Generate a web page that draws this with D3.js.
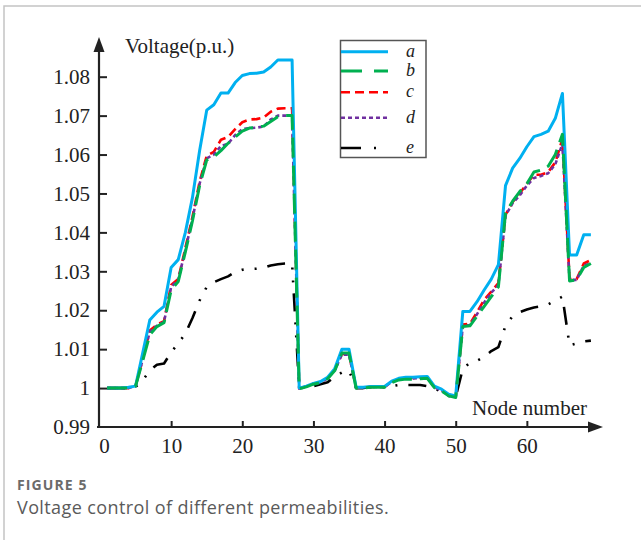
<!DOCTYPE html>
<html>
<head>
<meta charset="utf-8">
<script src="https://cdn.jsdelivr.net/npm/d3@7"></script>
<style>
  body { margin: 0; background: #fff; }
  .tick text { font-family: 'Liberation Serif', 'Times New Roman', serif; font-size: 21px; fill: #222; }
</style>
</head>
<body>
<div id="chart"></div>
<script>
// node numbers along the feeder
const nodes = d3.range(1, 70);

const seriesA = [1.000, 1.000, 1.000, 1.0002, 1.0005, 1.009, 1.0175, 1.0195, 1.021, 1.031,
  1.033, 1.040, 1.049, 1.061, 1.0714, 1.0728, 1.0758, 1.0758, 1.0785, 1.0803,
  1.0808, 1.0809, 1.0812, 1.0825, 1.0843, 1.0843, 1.0843, 1.000, 1.0005, 1.0012,
  1.0017, 1.0028, 1.005, 1.0100, 1.0100, 1.0002, 1.0002, 1.0004, 1.0004, 1.0004,
  1.0018, 1.0025, 1.0028, 1.0028, 1.0029, 1.003, 1.0005, 0.9997, 0.9984, 0.998,
  1.0197, 1.0197, 1.0222, 1.0252, 1.028, 1.0317, 1.052, 1.0565, 1.059, 1.062,
  1.0646, 1.0652, 1.066, 1.0693, 1.0757, 1.0342, 1.0342, 1.0394, 1.0394];

const seriesB = [1.000, 1.000, 1.000, 1.000, 1.0005, 1.007, 1.0137, 1.0158, 1.0168, 1.0252,
  1.0274, 1.035, 1.043, 1.052, 1.0586, 1.0594, 1.061, 1.0629, 1.0645, 1.066,
  1.0668, 1.067, 1.0673, 1.0685, 1.0697, 1.070, 1.070, 0.9998, 1.0003, 1.001,
  1.0014, 1.0024, 1.0045, 1.009, 1.009, 1.000, 1.000, 1.0002, 1.0002, 1.0002,
  1.0014, 1.0021, 1.0023, 1.0023, 1.0024, 1.0025, 1.0001, 0.9993, 0.998, 0.9976,
  1.0158, 1.016, 1.0185, 1.021, 1.0235, 1.026, 1.045, 1.048, 1.0505, 1.0525,
  1.0555, 1.056, 1.057, 1.060, 1.0652, 1.0275, 1.0278, 1.031, 1.032];

const seriesC = [1.000, 1.000, 1.000, 1.000, 1.0005, 1.0075, 1.0148, 1.0163, 1.0172, 1.0265,
  1.028, 1.036, 1.044, 1.053, 1.0597, 1.0607, 1.0638, 1.0645, 1.0665, 1.0683,
  1.069, 1.0691, 1.0695, 1.071, 1.0718, 1.0719, 1.0719, 0.9999, 1.0004, 1.0011,
  1.0015, 1.0026, 1.0047, 1.0088, 1.0088, 1.0001, 1.0001, 1.0003, 1.0003, 1.0003,
  1.0016, 1.0023, 1.0026, 1.0026, 1.0027, 1.0028, 1.0003, 0.9995, 0.9982, 0.9977,
  1.0163, 1.0165, 1.0195, 1.0227, 1.0248, 1.027, 1.0445, 1.0478, 1.050, 1.0525,
  1.0548, 1.0548, 1.0555, 1.058, 1.064, 1.028, 1.028, 1.032, 1.0329];

const seriesD = [1.000, 1.000, 1.000, 1.000, 1.0005, 1.0073, 1.0145, 1.016, 1.017, 1.026,
  1.0278, 1.0355, 1.0435, 1.0525, 1.059, 1.060, 1.0622, 1.0628, 1.065, 1.0665,
  1.0668, 1.0669, 1.0672, 1.069, 1.070, 1.070, 1.070, 0.9999, 1.0004, 1.0011,
  1.0015, 1.0025, 1.0046, 1.0086, 1.0086, 1.0001, 1.0001, 1.0003, 1.0003, 1.0003,
  1.0016, 1.0023, 1.0025, 1.0025, 1.0026, 1.0027, 1.0002, 0.9994, 0.9981, 0.9977,
  1.016, 1.0162, 1.019, 1.022, 1.0245, 1.0265, 1.0443, 1.0475, 1.0495, 1.052,
  1.054, 1.0545, 1.0552, 1.0575, 1.0628, 1.0278, 1.0278, 1.0315, 1.032];

const seriesE = [1.000, 1.000, 1.000, 1.000, 1.0003, 1.002, 1.0045, 1.006, 1.0063, 1.0092,
  1.0115, 1.014, 1.018, 1.0225, 1.026, 1.0272, 1.028, 1.0287, 1.0298, 1.0304,
  1.0306, 1.0307, 1.0309, 1.0315, 1.0318, 1.032, 1.032, 1.000, 1.0002, 1.0005,
  1.001, 1.0015, 1.003, 1.004, 1.0045, 1.000, 1.000, 1.0002, 1.0002, 1.0002,
  1.0005, 1.0008, 1.0008, 1.0008, 1.0008, 1.0005, 1.000, 0.999, 0.998, 0.9977,
  1.005, 1.0065, 1.007, 1.008, 1.0095, 1.0105, 1.016, 1.0185, 1.0195, 1.0202,
  1.0207, 1.021, 1.0215, 1.0225, 1.0235, 1.011, 1.0115, 1.012, 1.0122];

const seriesNames = ['a', 'b', 'c', 'd', 'e'];
const xTicks = [0, 10, 20, 30, 40, 50, 60];
const yTicks = [0.99, 1.00, 1.01, 1.02, 1.03, 1.04, 1.05, 1.06, 1.07, 1.08];

const styles = {
  a: { values: seriesA, color: '#00b0f0', width: 3, dash: null },
  b: { values: seriesB, color: '#00b050', width: 3, dash: '20,8' },
  c: { values: seriesC, color: '#ff0000', width: 2.6, dash: '9,5' },
  d: { values: seriesD, color: '#7030a0', width: 2.6, dash: '4,3' },
  e: { values: seriesE, color: '#000000', width: 2.6, dash: '18,11,2,11,2,11' },
};

const width = 641;
const height = 540;
const serif = "'Liberation Serif', 'Times New Roman', serif";

const svg = d3.select('#chart').append('svg')
  .attr('width', width)
  .attr('height', height);

// thin frame of the figure panel
svg.append('rect')
  .attr('x', 4).attr('y', 6)
  .attr('width', 800).attr('height', 800)
  .attr('fill', 'none')
  .attr('stroke', '#c4c4c4')
  .attr('stroke-width', 1.5);

const x = d3.scaleLinear().domain([0, 70]).range([100, 598]);
const y = d3.scaleLinear().domain([0.99, 1.08]).range([427, 76.7]);

const xAxis = svg.append('g')
  .attr('transform', `translate(0,${y(0.99)})`)
  .call(d3.axisBottom(x).tickValues(xTicks).tickSize(-6).tickSizeOuter(0).tickPadding(11));
xAxis.select('.domain').remove();
xAxis.selectAll('.tick line').attr('stroke', '#222').attr('stroke-width', 2);
xAxis.selectAll('.tick').filter(d => d === 0).select('line').remove();
xAxis.selectAll('.tick').filter(d => d === 0).select('text').attr('x', 4);

const yAxis = svg.append('g')
  .attr('transform', `translate(${x(0) - 1},0)`)
  .call(d3.axisLeft(y).tickValues(yTicks).tickSize(-8).tickSizeOuter(0).tickPadding(9)
    .tickFormat(d => String(+d.toFixed(2))));
yAxis.select('.domain').remove();
yAxis.selectAll('.tick line').attr('stroke', '#222').attr('stroke-width', 2);
yAxis.selectAll('.tick').filter(d => d === 0.99).select('line').remove();

// axis lines with arrow heads
const x0 = x(0) - 1;
const y0 = y(0.99);
svg.append('line')
  .attr('x1', x0).attr('y1', y0 + 1).attr('x2', x0).attr('y2', 48)
  .attr('stroke', '#222').attr('stroke-width', 2.2);
svg.append('path')
  .attr('d', `M${x0},37 L${x0 - 5.5},52 L${x0 + 5.5},52 Z`)
  .attr('fill', '#222');
svg.append('line')
  .attr('x1', x0 - 2).attr('y1', y0).attr('x2', 592).attr('y2', y0)
  .attr('stroke', '#222').attr('stroke-width', 2.2);
svg.append('path')
  .attr('d', `M603,${y0} L588,${y0 - 5.5} L588,${y0 + 5.5} Z`)
  .attr('fill', '#222');

svg.append('text')
  .attr('x', 125).attr('y', 53)
  .attr('font-family', serif).attr('font-size', 21).attr('fill', '#222')
  .text('Voltage(p.u.)');

svg.append('text')
  .attr('x', 587).attr('y', 415)
  .attr('text-anchor', 'end')
  .attr('font-family', serif).attr('font-size', 21).attr('fill', '#222')
  .text('Node number');

const line = d3.line()
  .x((d, i) => x(nodes[i]))
  .y(d => y(d));

const drawOrder = ['e', 'c', 'd', 'a', 'b'];
svg.append('g').selectAll('path')
  .data(drawOrder)
  .join('path')
  .attr('d', k => line(styles[k].values))
  .attr('fill', 'none')
  .attr('stroke', k => styles[k].color)
  .attr('stroke-width', k => styles[k].width)
  .attr('stroke-dasharray', k => styles[k].dash)
  .attr('stroke-linejoin', 'round');

// legend
const legendY = [51.7, 71, 92.3, 117.8, 148];
const legend = svg.append('g');
legend.append('rect')
  .attr('x', 340.5).attr('y', 40.5)
  .attr('width', 85.5).attr('height', 117)
  .attr('fill', '#fff')
  .attr('stroke', '#555')
  .attr('stroke-width', 1.5);

const item = legend.selectAll('g.item')
  .data(seriesNames)
  .join('g')
  .attr('class', 'item')
  .attr('transform', (d, i) => `translate(0,${legendY[i]})`);
item.append('line')
  .attr('x1', 341).attr('x2', 388)
  .attr('stroke', k => styles[k].color)
  .attr('stroke-width', k => styles[k].width)
  .attr('stroke-dasharray', k => (k === 'b' ? '21,12' : k === 'e' ? '20,13,2,20' : styles[k].dash));
item.append('text')
  .attr('x', 406).attr('y', 5)
  .attr('font-family', serif).attr('font-style', 'italic')
  .attr('font-size', 18).attr('fill', '#222')
  .text(d => d);

// caption
svg.append('text')
  .attr('x', 17).attr('y', 490)
  .attr('font-family', "'Open Sans', 'Noto Sans', sans-serif")
  .attr('font-size', 14).attr('font-weight', 700)
  .attr('letter-spacing', 1.1)
  .attr('fill', '#6b6b6b')
  .text('FIGURE 5');
svg.append('text')
  .attr('x', 17).attr('y', 514)
  .attr('font-family', "'Open Sans', 'Noto Sans', sans-serif")
  .attr('font-size', 18)
  .attr('letter-spacing', 0.4)
  .attr('fill', '#5a5a5a')
  .text('Voltage control of different permeabilities.');
</script>
</body>
</html>
